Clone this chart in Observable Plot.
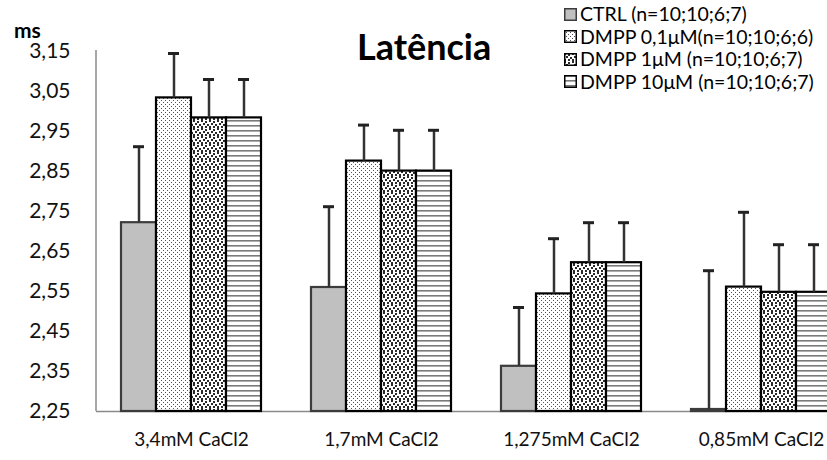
<!DOCTYPE html>
<html>
<head>
<meta charset="utf-8">
<script src="https://cdn.jsdelivr.net/npm/d3@7"></script>
<script src="https://cdn.jsdelivr.net/npm/@observablehq/plot@0.6"></script>
<style>
  html, body { margin: 0; padding: 0; background: #fff; }
  #wrap { position: relative; width: 827px; height: 460px; overflow: hidden; font-family: Lato, "Open Sans", sans-serif; color: #000; }
  #chart { position: absolute; left: 0; top: 0; }
  .ylab { position: absolute; left: 14px; top: 17px; font-size: 21px; font-weight: 700; }
  .title { position: absolute; left: 357px; top: 24px; font-size: 36px; font-weight: 700; }
  .legend { position: absolute; left: 564px; top: 3px; font-size: 19.5px; line-height: 22.5px; }
  .legend .row { display: flex; align-items: center; white-space: nowrap; }
  .legend svg { margin-right: 3px; }
  #chart g[aria-label="y-axis tick label"] { font-size: 21px; }
  #chart g[aria-label="fx-axis tick label"] { font-size: 19px; }
</style>
</head>
<body>
<!-- fill patterns shared by bars and legend swatches -->
<svg width="0" height="0" style="position:absolute">
  <defs>
    <pattern id="pat-fine" width="4" height="4" patternUnits="userSpaceOnUse">
      <rect width="4" height="4" fill="#fff"/>
      <rect x="0" y="0" width="1" height="1" fill="#555"/>
      <rect x="2" y="2" width="1" height="1" fill="#555"/>
    </pattern>
    <pattern id="pat-confetti" width="8" height="8" patternUnits="userSpaceOnUse">
      <rect width="8" height="8" fill="#fff"/>
      <g fill="#2a2a2a">
        <rect x="0" y="0" width="2" height="2"/>
        <rect x="4" y="1" width="2" height="2"/>
        <rect x="2" y="3" width="2" height="2"/>
        <rect x="6" y="4" width="2" height="2"/>
        <rect x="0" y="6" width="2" height="2"/>
        <rect x="4" y="6" width="2" height="2"/>
      </g>
    </pattern>
    <pattern id="pat-lines" width="4" height="5" patternUnits="userSpaceOnUse">
      <rect width="4" height="5" fill="#fff"/>
      <rect x="0" y="0" width="4" height="1.6" fill="#7a7a7a"/>
    </pattern>
  </defs>
</svg>

<div id="wrap">
  <div id="chart"></div>
  <div class="ylab">ms</div>
  <div class="title">Latência</div>
  <div class="legend" id="legend"></div>
</div>

<script>
// Calcium concentrations (groups along the x axis)
const categories = ["3,4mM CaCl2", "1,7mM CaCl2", "1,275mM CaCl2", "0,85mM CaCl2"];

// Treatments (bars within each group) and their legend labels
const series = ["CTRL", "DMPP 0,1μM", "DMPP 1μM", "DMPP 10μM"];
const legendLabels = [
  "CTRL (n=10;10;6;7)",
  "DMPP 0,1μM(n=10;10;6;6)",
  "DMPP 1μM (n=10;10;6;7)",
  "DMPP 10μM (n=10;10;6;7)"
];

// Mean latency (ms) per group, and upper error (SD) per group
const ctrlMean    = [2.722, 2.560, 2.363, 2.255];
const ctrlErr     = [0.190, 0.202, 0.147, 0.347];
const dmpp01Mean  = [3.034, 2.876, 2.544, 2.561];
const dmpp01Err   = [0.111, 0.090, 0.138, 0.187];
const dmpp1Mean   = [2.984, 2.851, 2.622, 2.548];
const dmpp1Err    = [0.096, 0.102, 0.100, 0.119];
const dmpp10Mean  = [2.984, 2.851, 2.622, 2.548];
const dmpp10Err   = [0.096, 0.102, 0.100, 0.119];

// Y axis ticks
const yTicks = [2.25, 2.35, 2.45, 2.55, 2.65, 2.75, 2.85, 2.95, 3.05, 3.15];

const fills = ["#c0c0c0", "url(#pat-fine)", "url(#pat-confetti)", "url(#pat-lines)"];
const strokes = ["#3c3c3c", "#000", "#000", "#000"];

const means = [ctrlMean, dmpp01Mean, dmpp1Mean, dmpp10Mean];
const errs = [ctrlErr, dmpp01Err, dmpp1Err, dmpp10Err];
const rows = [];
series.forEach((s, si) => {
  categories.forEach((c, ci) => {
    rows.push({cat: c, series: s, value: means[si][ci], err: errs[si][ci]});
  });
});

const yMin = yTicks[0], yMax = yTicks[yTicks.length - 1];
const fmt = d => d.toFixed(2).replace(".", ",");

const chart = Plot.plot({
  width: 827,
  height: 460,
  marginTop: 51,
  marginBottom: 49,
  marginLeft: 96,
  marginRight: 0,
  style: {fontFamily: "Lato, 'Open Sans', sans-serif", fontSize: "19px", color: "#000", background: "transparent", overflow: "visible"},
  fx: {domain: categories, range: [96, 856], paddingInner: 50 / 190, paddingOuter: 25 / 190, axis: null, label: null},
  x: {domain: series, padding: 0, axis: null},
  y: {domain: [yMin, yMax], axis: null},
  color: {domain: series, range: fills},
  marks: [
    Plot.axisY({ticks: yTicks, tickFormat: fmt, tickSize: 0, tickPadding: 51, label: null, fill: "#111"}),
    Plot.axisFx({anchor: "bottom", tickSize: 0, tickPadding: 21, label: null, fill: "#111"}),
    // horizontal axis line, stretched across the gaps between groups
    Plot.ruleY([yMin], {insetLeft: -25, insetRight: -25, stroke: "#8a8a8a", strokeWidth: 1.5}),
    Plot.barY(rows, {
      fx: "cat", x: "series", y1: yMin, y2: "value",
      fill: "series",
      stroke: d => strokes[series.indexOf(d.series)],
      strokeWidth: 2.2
    }),
    // upper error bars
    Plot.ruleX(rows, {fx: "cat", x: "series", y1: "value", y2: d => d.value + d.err, stroke: "#333", strokeWidth: 2.5}),
    Plot.tickY(rows, {fx: "cat", x: "series", y: d => d.value + d.err, insetLeft: 12, insetRight: 12, stroke: "#222", strokeWidth: 3})
  ]
});

// vertical axis line at the left edge of the plotting area
const fxScale = chart.scale("fx");
const yScale = chart.scale("y");
d3.select(chart).append("line")
  .attr("x1", fxScale.range[0]).attr("x2", fxScale.range[0])
  .attr("y1", yScale.apply(yMax) - 1).attr("y2", yScale.apply(yMin))
  .attr("stroke", "#8a8a8a").attr("stroke-width", 1.5);

document.getElementById("chart").appendChild(chart);

// legend
const legend = document.getElementById("legend");
series.forEach((s, i) => {
  const row = document.createElement("div");
  row.className = "row";
  row.innerHTML = `<svg width="13" height="13"><rect x="0.75" y="0.75" width="11.5" height="11.5" fill="${fills[i]}" stroke="${strokes[i]}" stroke-width="1.5"/></svg><span>${legendLabels[i]}</span>`;
  legend.appendChild(row);
});
</script>
</body>
</html>
